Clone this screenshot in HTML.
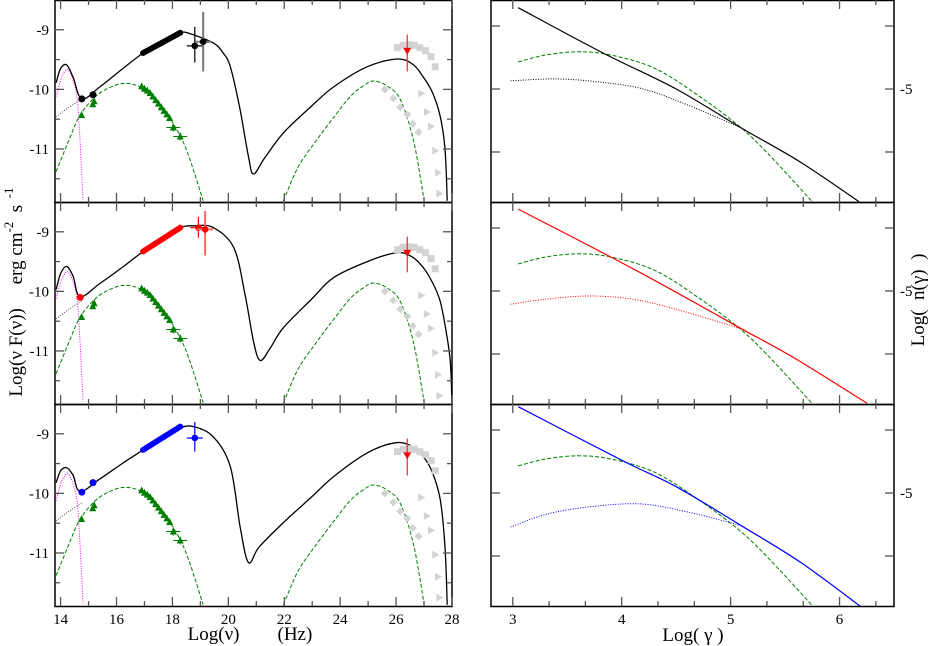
<!DOCTYPE html>
<html><head><meta charset="utf-8">
<style>
html,body{margin:0;padding:0;background:#fff;}
svg{display:block;font-family:"Liberation Serif",serif;}
</style></head>
<body>
<svg id="chart" width="934" height="646" viewBox="0 0 934 646" xmlns="http://www.w3.org/2000/svg">
<defs>
<clipPath id="clipL0"><rect x="55" y="0" width="397" height="202"/></clipPath>
<clipPath id="clipL1"><rect x="55" y="202" width="397" height="202"/></clipPath>
<clipPath id="clipL2"><rect x="55" y="404" width="397" height="202"/></clipPath>
<clipPath id="clipR0"><rect x="491" y="0" width="403" height="202"/></clipPath>
<clipPath id="clipR1"><rect x="491" y="202" width="403" height="202"/></clipPath>
<clipPath id="clipR2"><rect x="491" y="404" width="403" height="202"/></clipPath>
</defs>
<g id="layer"></g>
<text x="250" y="640" font-size="19" text-anchor="middle" xml:space="preserve">Log(ν)        (Hz)</text>
<text x="693" y="641" font-size="19" text-anchor="middle" xml:space="preserve">Log( γ )</text>
<text transform="translate(22,292) rotate(-90)" font-size="19" text-anchor="middle" xml:space="preserve">Log(ν F(ν))     erg cm<tspan dy="-9" font-size="13">-2</tspan><tspan dy="9">  s</tspan><tspan dy="-9" font-size="13">  -1</tspan></text>
<text transform="translate(924,300) rotate(-90)" font-size="19" text-anchor="middle" xml:space="preserve">Log(  n(γ)  )</text>
</svg>
<script>
// ---------- data (left: log nu vs log nuFnu) ----------
const greenLowX = [13.84,14.3,14.7,15.3,15.9,16.38,16.9,17.4,17.8,18.3,18.63,19.1];
const greenLowY = [-11.38,-10.85,-10.43,-10.1,-9.94,-9.9,-9.97,-10.15,-10.4,-10.8,-11.18,-11.87];
const greenHighX = [21.97,22.5,23.16,23.8,24.36,24.8,25.2,25.7,26.15,26.62,27.0];
const greenHighY = [-11.87,-11.3,-10.85,-10.45,-10.12,-9.95,-9.86,-9.95,-10.17,-10.85,-11.85];
const magentaX = [13.84,14.0,14.15,14.27,14.45,14.6,14.7,14.8];
const magentaY = [-10.12,-9.85,-9.7,-9.67,-9.85,-10.17,-10.9,-11.85];
const dotX = [13.84,14.3,14.76];
const dotY = [-10.46,-10.3,-10.16];

const modelX = [
 [13.84,14.0,14.22,14.45,14.76,15.4,16.2,16.95,17.7,18.28,18.6,19.46,19.8,20.07,20.42,20.72,20.9,21.3,21.97,23.0,23.76,24.97,26.04,26.6,26.97,27.3,27.58,27.75,27.83],
 [13.84,14.0,14.22,14.45,14.7,15.4,16.2,16.95,17.7,18.28,18.75,19.46,20.2,20.6,20.9,21.14,21.5,21.97,23.0,23.76,24.97,26.04,26.6,26.97,27.3,27.58,27.8,27.94,28.0],
 [13.84,14.0,14.22,14.45,14.7,15.4,16.2,16.95,17.7,18.28,18.75,19.46,20.07,20.42,20.72,21.1,21.97,23.0,23.76,24.97,26.0,26.6,26.97,27.3,27.58,27.75,27.83]
];
const modelY = [
 [-9.89,-9.65,-9.59,-9.8,-10.16,-9.96,-9.66,-9.39,-9.18,-9.05,-9.06,-9.22,-9.38,-9.62,-10.34,-11.13,-11.42,-11.15,-10.73,-10.27,-9.96,-9.62,-9.49,-9.58,-9.79,-10.05,-10.46,-11.0,-11.87],
 [-9.97,-9.7,-9.58,-9.75,-10.09,-9.87,-9.6,-9.33,-9.09,-8.93,-8.9,-8.93,-9.27,-10.06,-10.84,-11.16,-10.95,-10.61,-10.12,-9.77,-9.5,-9.35,-9.43,-9.6,-9.85,-10.17,-10.7,-11.18,-11.87],
 [-9.82,-9.62,-9.57,-9.7,-9.97,-9.76,-9.5,-9.27,-9.04,-8.9,-8.88,-9.05,-9.55,-10.56,-11.16,-10.9,-10.49,-10.05,-9.72,-9.32,-9.15,-9.22,-9.38,-9.65,-10.11,-10.9,-11.87]
];
const seriesColor = ['#000000','#ff0000','#0000ff'];
const optX = [[14.76,15.16],[14.7],[14.76,15.16]];
const optY = [[-10.16,-10.09],[-10.1],[-9.98,-9.82]];
const xrayStart = [[16.95,-9.39],[16.95,-9.33],[16.95,-9.27]];
const xrayEnd = [[18.28,-9.05],[18.28,-8.93],[18.28,-8.88]];
const errX = [[18.8,19.1],[18.93,19.17],[18.8]];
const errY = [[-9.27,-9.2],[-8.93,-8.96],[-9.07]];
const errLo = [[-9.55,-9.7],[-9.1,-9.4],[-9.3]];
const errHi = [[-8.95,-8.7],[-8.75,-8.65],[-8.8]];
const tevX = [26.4,26.4,26.4];
const tevY = [-9.37,-9.37,-9.38];
const tevLo = [-9.7,-9.68,-9.7];
const tevHi = [-9.08,-9.08,-9.08];
const graySqX = [26.05,26.25,26.45,26.65,26.85,27.05,27.25,27.4];
const graySqY = [-9.3,-9.26,-9.25,-9.26,-9.3,-9.35,-9.45,-9.62];
const grayDiaX = [25.6,25.9,26.15,26.4,26.6,26.8];
const grayDiaY = [-10.0,-10.15,-10.3,-10.42,-10.58,-10.72];
const grayTriX = [26.9,27.1,27.25,27.4,27.5,27.55];
const grayTriY = [-10.07,-10.38,-10.62,-11.03,-11.4,-11.75];
const greenPtX = [14.75,15.15,15.2,16.9,17.0,17.1,17.2,17.3,17.4,17.5,17.6,17.7,17.8,17.9,18.03,18.28];
const greenPtY = [-10.43,-10.25,-10.2,-9.95,-9.99,-10.02,-10.06,-10.12,-10.18,-10.24,-10.3,-10.36,-10.42,-10.48,-10.64,-10.79];

// ---------- data (right: log gamma vs log n) ----------
const gGreenX = [3.05,3.3,3.6,3.9,4.3,4.7,5.1,5.4,5.75];
const gGreenY = [-4.57,-4.46,-4.41,-4.46,-4.67,-5.1,-5.62,-6.13,-6.79];
const gSolidX = [[3.05,3.83,4.5,5.1,5.65,6.18],[3.05,3.9,4.5,5.1,5.6,6.25],[3.05,4.0,4.5,5.1,5.65,6.2]];
const gSolidY = [[-3.71,-4.43,-5.0,-5.62,-6.17,-6.79],[-3.7,-4.46,-5.02,-5.6,-6.08,-6.78],[-3.63,-4.48,-4.9,-5.52,-6.11,-6.81]];
const gDotX = [[2.98,3.4,3.8,4.2,4.6,5.1],[2.98,3.3,3.7,4.1,4.5,5.1],[2.98,3.4,4.1,4.6,5.1]];
const gDotY = [[-4.87,-4.84,-4.89,-5.0,-5.25,-5.62],[-5.21,-5.13,-5.08,-5.13,-5.29,-5.6],[-5.54,-5.3,-5.17,-5.3,-5.52]];

// ---------- axes ----------
const L = {x0:55,x1:452,v0:13.8,v1:28.0,ymin:-11.89,ymax:-8.5};
const R = {x0:491,x1:894,g0:2.8,g1:6.5,ymin:-6.794,ymax:-3.587};
const H = 202;
const tops = [0,202,404];
const lx = v => L.x0 + (v-L.v0)/(L.v1-L.v0)*(L.x1-L.x0);
const ly = (p,v) => tops[p] + (L.ymax-v)/(L.ymax-L.ymin)*H;
const rx = v => R.x0 + (v-R.g0)/(R.g1-R.g0)*(R.x1-R.x0);
const ry = (p,v) => tops[p] + (R.ymax-v)/(R.ymax-R.ymin)*H;

const NS='http://www.w3.org/2000/svg';
const layer=document.getElementById('layer');
function el(tag,attrs,parent){const e=document.createElementNS(NS,tag);for(const k in attrs)e.setAttribute(k,attrs[k]);(parent||layer).appendChild(e);return e;}
function smooth(pts){
  let d='M'+pts[0][0].toFixed(1)+','+pts[0][1].toFixed(1);
  for(let i=0;i<pts.length-1;i++){
    const p0=pts[i-1]||pts[i],p1=pts[i],p2=pts[i+1],p3=pts[i+2]||p2;
    const c1=[p1[0]+(p2[0]-p0[0])/6,p1[1]+(p2[1]-p0[1])/6];
    const c2=[p2[0]-(p3[0]-p1[0])/6,p2[1]-(p3[1]-p1[1])/6];
    d+='C'+c1[0].toFixed(1)+','+c1[1].toFixed(1)+' '+c2[0].toFixed(1)+','+c2[1].toFixed(1)+' '+p2[0].toFixed(1)+','+p2[1].toFixed(1);
  }
  return d;
}

for(let p=0;p<3;p++){
  const gL=el('g',{'clip-path':'url(#clipL'+p+')'});
  
  
  let path;
  path=el('path',{d:smooth(greenLowX.map((v,i)=>[lx(v),ly(p,greenLowY[i])])),fill:'none',stroke:'#008000','stroke-width':1,'stroke-dasharray':'4,2'},gL);
  
  
  path=el('path',{d:smooth(greenHighX.map((v,i)=>[lx(v),ly(p,greenHighY[i])])),fill:'none',stroke:'#008000','stroke-width':1,'stroke-dasharray':'4,2'},gL);
  
  
  path=el('path',{d:smooth(magentaX.map((v,i)=>[lx(v),ly(p,magentaY[i])])),fill:'none',stroke:'#ff00ff','stroke-width':1,'stroke-dasharray':'1,1.5'},gL);
  
  
  path=el('path',{d:smooth(dotX.map((v,i)=>[lx(v),ly(p,dotY[i])])),fill:'none',stroke:'#555','stroke-width':1,'stroke-dasharray':'1,1.5'},gL);
  
  
  path=el('path',{d:smooth(modelX[p].map((v,i)=>[lx(v),ly(p,modelY[p][i])])),fill:'none',stroke:'#000','stroke-width':1.3},gL);
  
  
  graySqX.forEach((v,i)=>{const r=el('rect',{x:lx(v)-3.5,y:ly(p,graySqY[i])-3.5,width:7,height:7,fill:'#d3d3d3'},gL);
    });
  grayDiaX.forEach((v,i)=>{const x=lx(v),y=ly(p,grayDiaY[i]);const r=el('polygon',{points:`${x},${y-4} ${x+4},${y} ${x},${y+4} ${x-4},${y}`,fill:'#d3d3d3'},gL);
    });
  grayTriX.forEach((v,i)=>{const x=lx(v),y=ly(p,grayTriY[i]);const r=el('polygon',{points:`${x-3},${y-4} ${x+4},${y} ${x-3},${y+4}`,fill:'#d3d3d3'},gL);
    });
  greenPtX.forEach((v,i)=>{const x=lx(v),y=ly(p,greenPtY[i]);
    if(i>=greenPtX.length-2){const b=el('path',{d:`M${x-7},${y}H${x+7}M${x},${y-4}V${y+4}`,stroke:'#008000','stroke-width':1},gL);
      }
    const r=el('polygon',{points:`${x},${y-4} ${x+3.5},${y+3} ${x-3.5},${y+3}`,fill:'#008000'},gL);
    });
  const col=seriesColor[p];
  optX[p].forEach((v,i)=>{const c=el('circle',{cx:lx(v),cy:ly(p,optY[p][i]),r:3.5,fill:col},gL);
    });
  for(let k=0;k<=18;k++){const t=k/18;
    const v=xrayStart[p][0]+t*(xrayEnd[p][0]-xrayStart[p][0]);
    const w=xrayStart[p][1]+t*(xrayEnd[p][1]-xrayStart[p][1]);
    const c=el('circle',{cx:lx(v),cy:ly(p,w),r:3,fill:col},gL);
    }
  errX[p].forEach((v,i)=>{const x=lx(v),y=ly(p,errY[p][i]);
    const sc=(p===0&&i===1)?'#777':(p===1&&i===1?'#f66':col);
    const b=el('path',{d:`M${x-8},${y}H${x+8}M${x},${ly(p,errLo[p][i])}V${ly(p,errHi[p][i])}`,stroke:sc,'stroke-width':(i===1?2:1.2)},gL);
    
    const c=el('circle',{cx:x,cy:y,r:3.3,fill:col},gL);
    });
  {const x=lx(tevX[p]),y=ly(p,tevY[p]);
    const b=el('path',{d:`M${x},${ly(p,tevLo[p])}V${ly(p,tevHi[p])}`,stroke:'#f33','stroke-width':1.3},gL);
    
    const t=el('polygon',{points:`${x-4},${y-4} ${x+4},${y-4} ${x},${y+3}`,fill:'#f00'},gL);
    }

  const fr=el('rect',{x:55,y:tops[p]+0.5,width:397,height:H,fill:'none',stroke:'#000','stroke-width':1.5});
  
  for(let v=14;v<=28;v++){const x=lx(v),len=(v%2===0)?9:5;
    el('line',{x1:x,x2:x,y1:tops[p]+H,y2:tops[p]+H-len,stroke:'#555','stroke-width':1.3});
    el('line',{x1:x,x2:x,y1:tops[p],y2:tops[p]+len,stroke:'#555','stroke-width':1.3});}
  for(let v=-11.5;v<=-8.5;v+=0.5){const y=ly(p,v);if(y<tops[p]+2||y>tops[p]+H-2)continue;const len=Number.isInteger(v)?9:5;
    el('line',{x1:55,x2:55+len,y1:y,y2:y,stroke:'#555','stroke-width':1.3});
    el('line',{x1:452,x2:452-len,y1:y,y2:y,stroke:'#555','stroke-width':1.3});
    if(Number.isInteger(v)){const t=el('text',{x:49,y:y+5,'font-size':15,'text-anchor':'end'});t.textContent=String(v);
      }}

  const gR=el('g',{'clip-path':'url(#clipR'+p+')'});
  
  
  path=el('path',{d:smooth(gGreenX.map((v,i)=>[rx(v),ry(p,gGreenY[i])])),fill:'none',stroke:'#008000','stroke-width':1,'stroke-dasharray':'4,2'},gR);
  
  path=el('path',{d:smooth(gDotX[p].map((v,i)=>[rx(v),ry(p,gDotY[p][i])])),fill:'none',stroke:col,'stroke-width':1,'stroke-dasharray':'1,1.5'},gR);
  
  path=el('path',{d:smooth(gSolidX[p].map((v,i)=>[rx(v),ry(p,gSolidY[p][i])])),fill:'none',stroke:col,'stroke-width':1.2},gR);
  
  const fr2=el('rect',{x:491,y:tops[p]+0.5,width:403,height:H,fill:'none',stroke:'#000','stroke-width':1.5});
  
  for(let k=0;k<=10;k++){const v=3+k/3,x=rx(v),len=(k%3===0)?9:5;
    el('line',{x1:x,x2:x,y1:tops[p]+H,y2:tops[p]+H-len,stroke:'#555','stroke-width':1.3});
    el('line',{x1:x,x2:x,y1:tops[p],y2:tops[p]+len,stroke:'#555','stroke-width':1.3});}
  [-4,-5,-6].forEach(v=>{const y=ry(p,v);
    el('line',{x1:491,x2:500,y1:y,y2:y,stroke:'#555','stroke-width':1.3});
    el('line',{x1:894,x2:885,y1:y,y2:y,stroke:'#555','stroke-width':1.3});
    if(v===-5){const t=el('text',{x:900,y:y+5,'font-size':15});t.textContent='-5';
      }});
}
for(let v=14;v<=28;v+=2){const t=el('text',{x:lx(v),y:624,'font-size':15,'text-anchor':'middle'});t.textContent=String(v);
  }
for(let v=3;v<=6;v++){const t=el('text',{x:rx(v),y:624,'font-size':15,'text-anchor':'middle'});t.textContent=String(v);
  }
</script>
</body></html>
